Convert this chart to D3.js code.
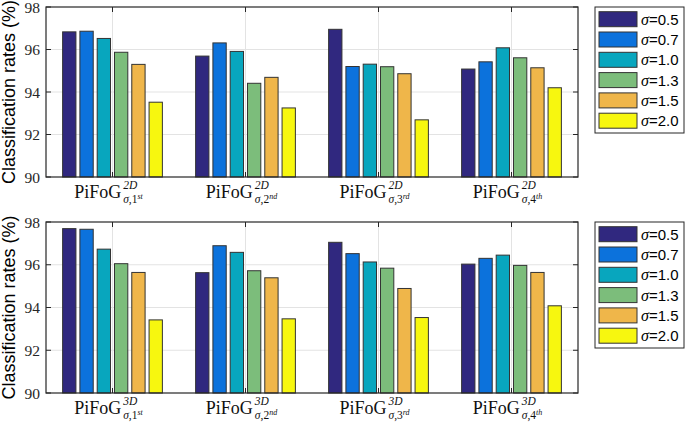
<!DOCTYPE html>
<html><head><meta charset="utf-8">
<script src="https://cdn.jsdelivr.net/npm/d3@7"></script>
<style>body{margin:0;background:#fff}svg{display:block}</style>
</head><body>
<svg id="chart" width="685" height="422"></svg>
<script>
const categories = ["1st","2nd","3rd","4th"];
const ordinalNum = ["1","2","3","4"];
const ordinalSuffix = ["st","nd","rd","th"];
const sigmas = ["0.5","0.7","1.0","1.3","1.5","2.0"];
const colors = ["#30287f","#0c72dc","#08a6be","#7cbd7b","#efb64a","#f7f70f"];
const rates2D = [
  [96.83,96.86,96.52,95.87,95.30,93.52],
  [95.69,96.31,95.91,94.41,94.69,93.25],
  [96.95,95.20,95.31,95.19,94.86,92.69],
  [95.08,95.42,96.08,95.61,95.14,94.20]
];
const rates3D = [
  [97.69,97.66,96.73,96.05,95.64,93.42],
  [95.63,96.89,96.58,95.72,95.39,93.47],
  [97.05,96.52,96.13,95.84,94.89,93.53],
  [96.03,96.30,96.45,95.97,95.64,94.08]
];
const yTicks = [90,92,94,96,98];
const dims = ["2D","3D"];

const svg = d3.select("#chart");
const L = 46, R = 578;
const panels = [
  {top:7, bottom:177, data:rates2D, dim:dims[0]},
  {top:222, bottom:393, data:rates3D, dim:dims[1]}
];
const axisColor = "#262626";

const x0 = d3.scaleBand().domain(categories).range([L,R]).padding(0);
const groupW = x0.bandwidth()*0.78;
const x1 = d3.scaleBand().domain(sigmas).range([-groupW/2, groupW/2]).paddingInner(0.23).paddingOuter(0.115);

panels.forEach(p => {
  const g = svg.append("g");
  const y = d3.scaleLinear().domain([90,98]).range([p.bottom,p.top]);
  // grid
  g.selectAll(".hg").data(yTicks.slice(1,-1)).join("line")
    .attr("x1",L).attr("x2",R).attr("y1",d=>y(d)).attr("y2",d=>y(d))
    .attr("stroke","#e3e3e3").attr("stroke-width",1);
  g.selectAll(".vg").data(categories).join("line")
    .attr("x1",d=>x0(d)+x0.bandwidth()/2).attr("x2",d=>x0(d)+x0.bandwidth()/2)
    .attr("y1",p.top).attr("y2",p.bottom)
    .attr("stroke","#e3e3e3").attr("stroke-width",1);
  // bars
  categories.forEach((c,ci) => {
    const cx = x0(c)+x0.bandwidth()/2;
    g.selectAll(null).data(p.data[ci]).join("rect")
      .attr("x",(d,i)=>cx + x1(sigmas[i]))
      .attr("width",x1.bandwidth())
      .attr("y",d=>y(d))
      .attr("height",d=>y(90)-y(d))
      .attr("fill",(d,i)=>colors[i])
      .attr("stroke","#333").attr("stroke-width",1);
  });
  // axes box
  g.append("rect").attr("x",L).attr("y",p.top).attr("width",R-L).attr("height",p.bottom-p.top)
    .attr("fill","none").attr("stroke",axisColor).attr("stroke-width",1.2);
  // ticks
  const tl = 5;
  yTicks.forEach(t=>{
    g.append("line").attr("x1",L).attr("x2",L+tl).attr("y1",y(t)).attr("y2",y(t)).attr("stroke",axisColor);
    g.append("line").attr("x1",R).attr("x2",R-tl).attr("y1",y(t)).attr("y2",y(t)).attr("stroke",axisColor);
  });
  categories.forEach(c=>{
    const cx = x0(c)+x0.bandwidth()/2;
    g.append("line").attr("x1",cx).attr("x2",cx).attr("y1",p.bottom).attr("y2",p.bottom-tl).attr("stroke",axisColor);
    g.append("line").attr("x1",cx).attr("x2",cx).attr("y1",p.top).attr("y2",p.top+tl).attr("stroke",axisColor);
  });
  // y tick labels
  g.selectAll(".yt").data(yTicks).join("text")
    .attr("x",L-6).attr("y",d=>y(d)).attr("dy","0.36em")
    .attr("text-anchor","end").attr("font-family","Liberation Serif").attr("font-size",15.5)
    .attr("fill",axisColor).text(d=>d);
  // y label
  g.append("text").attr("transform",`translate(15,${(p.top+p.bottom)/2}) rotate(-90)`)
    .attr("text-anchor","middle").attr("font-family","Liberation Sans").attr("font-size",18)
    .attr("fill","#000").text("Classification rates (%)");
  // x labels
  categories.forEach((c,ci)=>{
    const cx = x0(c)+x0.bandwidth()/2;
    const lg = g.append("g");
    const base = p.bottom+21;
    const t1 = lg.append("text").attr("x",0).attr("y",base)
      .attr("font-family","Liberation Serif").attr("font-size",18).attr("fill","#111").text("PiFoG");
    const w1 = t1.node().getComputedTextLength()+2;
    const sup = lg.append("text").attr("x",w1).attr("y",base-9)
      .attr("font-family","Liberation Serif").attr("font-style","italic").attr("font-size",11.5).attr("fill","#111").text(p.dim);
    const sub = lg.append("text").attr("x",w1).attr("y",base+5)
      .attr("font-family","Liberation Serif").attr("font-size",11.5).attr("fill","#111");
    sub.append("tspan").attr("font-style","italic").text("σ");
    sub.append("tspan").text(","+ordinalNum[ci]);
    sub.append("tspan").attr("font-size",8).attr("font-style","italic").attr("dy",-4).text(ordinalSuffix[ci]);
    const ws = sup.node().getComputedTextLength();
    const wb = sub.node().getComputedTextLength();
    const total = w1 + Math.max(ws,wb);
    lg.attr("transform",`translate(${cx - total/2 - 4},0)`);
  });
  // legend
  const lx = 595, ly = p.top;
  const leg = g.append("g");
  leg.append("rect").attr("x",lx).attr("y",ly).attr("width",89).attr("height",126)
    .attr("fill","#fff").attr("stroke","#262626").attr("stroke-width",1);
  sigmas.forEach((s,i)=>{
    const sy = ly+4.7+20.3*i;
    leg.append("rect").attr("x",lx+4).attr("y",sy).attr("width",38).attr("height",15)
      .attr("fill",colors[i]).attr("stroke","#333").attr("stroke-width",1);
    const t = leg.append("text").attr("x",lx+46).attr("y",sy+13)
      .attr("font-family","Liberation Sans").attr("font-size",15).attr("fill","#000");
    t.append("tspan").attr("font-family","Liberation Serif").attr("font-style","italic").attr("font-size",16).text("σ");
    t.append("tspan").text("="+s);
  });
});
</script>
</body></html>
